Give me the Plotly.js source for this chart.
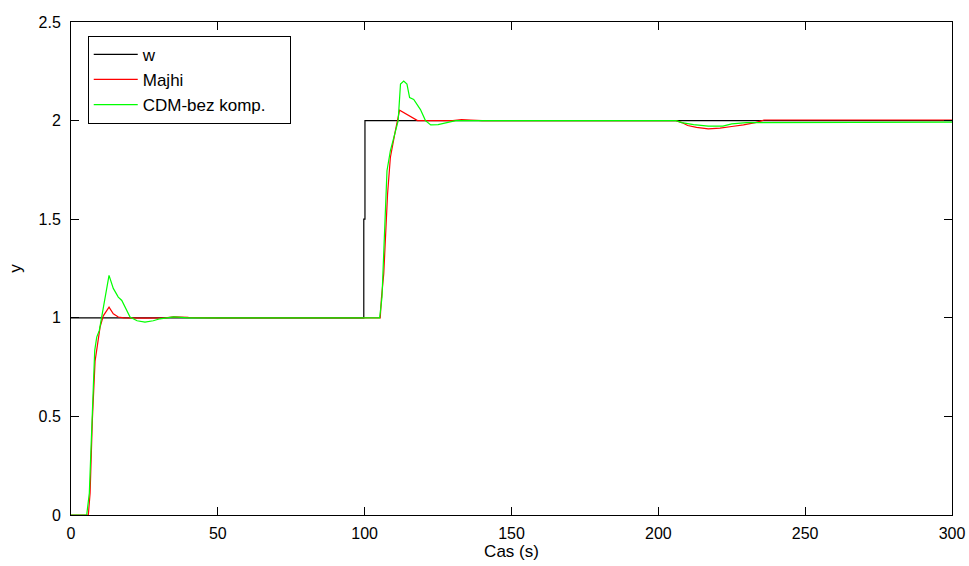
<!DOCTYPE html>
<html>
<head>
<meta charset="utf-8">
<script src="https://cdn.plot.ly/plotly-3.0.1.min.js"></script>
<style>html,body{margin:0;padding:0;background:#fff;}#chart{width:969px;height:566px;}</style>
</head>
<body>
<div id="chart"></div>
<script>
// Reference signal w
const wT = [0, 99.7, 99.7, 100.1, 100.1, 300];
const wY = [1, 1, 1.5, 1.5, 2, 2];

// Majhi controller response
const majhiT = [0, 5.9, 6.5, 7.27, 8.2, 9.3, 9.9, 11, 12.95, 14.4, 16.1, 18, 25, 32, 35, 40, 50,
  105.3, 105.7, 106.5, 107.3, 107.8, 108.75, 109.7, 110.45, 111.9, 113.3, 116.7, 118, 130, 133, 136, 140,
  206, 208, 210, 213, 217, 221, 225, 229, 233, 236, 300];
const majhiY = [0, 0, 0.11, 0.48, 0.78, 0.886, 0.953, 1.01, 1.054, 1.02, 1.004, 1.0, 0.998, 1.0, 1.005, 1.002, 1.0,
  1.0, 1.097, 1.223, 1.459, 1.628, 1.813, 1.898, 1.948, 2.053, 2.04, 2.008, 2.0, 2.0, 2.005, 2.003, 2.0,
  2.0, 1.99, 1.975, 1.966, 1.958, 1.962, 1.97, 1.978, 1.99, 2.003, 2.003];

// CDM without compensation response
const cdmT = [0, 5.35, 6.24, 7.06, 7.6, 8.08, 8.76, 9.65, 10.47, 11.6, 12.95, 14.4, 16.1, 17.3, 20.1, 22.5, 25.2, 28, 30.3, 32.6, 35, 40,
  105.1, 105.9, 106.5, 107.0, 107.6, 108.75, 109.9, 110.8, 111.4, 112.2, 113.3, 114.4, 115.3, 116.7, 119, 120.7, 122.5, 125, 128, 131,
  206, 208, 212, 217, 222, 225, 230, 300];
const cdmY = [0, 0, 0.111, 0.506, 0.649, 0.835, 0.902, 0.936, 1.004, 1.088, 1.215, 1.149, 1.105, 1.088, 1.004, 0.985, 0.978, 0.985, 0.995, 1.0, 1.005, 1.0,
  1.0, 1.105, 1.324, 1.577, 1.746, 1.847, 1.914, 1.957, 1.999, 2.185, 2.2, 2.185, 2.117, 2.107, 2.056, 2.0, 1.978, 1.98, 1.99, 2.0,
  2.0, 1.99, 1.98, 1.972, 1.972, 1.983, 1.99, 1.992];

const seriesNames = ['w', 'Majhi', 'CDM-bez komp.'];
const xTickVals = [0, 50, 100, 150, 200, 250, 300];
const yTickVals = [0, 0.5, 1, 1.5, 2, 2.5];

const FONT = 'Liberation Sans, Arial, sans-serif';
// trailing non-breaking spaces widen the legend box like the reference
const LEGEND_PAD = '\u00a0\u00a0\u00a0\u00a0';

const traces = [
  {x: wT, y: wY, name: seriesNames[0], mode: 'lines', line: {color: '#000000', width: 1.2}},
  {x: majhiT, y: majhiY, name: seriesNames[1], mode: 'lines', line: {color: '#ff0000', width: 1.2}},
  {x: cdmT, y: cdmY, name: seriesNames[2] + LEGEND_PAD, mode: 'lines', line: {color: '#00ff00', width: 1.2}}
];

const axisCommon = {
  showgrid: false, zeroline: false, showline: true, linecolor: '#000000', linewidth: 1,
  mirror: 'ticks', ticks: 'inside', ticklen: 8, tickwidth: 1, tickcolor: '#000000',
  tickfont: {family: FONT, size: 16, color: '#000000'}
};

const layout = {
  width: 969, height: 566,
  paper_bgcolor: '#ffffff', plot_bgcolor: '#ffffff',
  margin: {l: 71, r: 17, t: 22, b: 51},
  showlegend: true,
  legend: {
    x: 0.019, y: 0.972, xanchor: 'left', yanchor: 'top',
    bgcolor: '#ffffff', bordercolor: '#000000', borderwidth: 1,
    font: {family: FONT, size: 17, color: '#000000'},
    itemwidth: 44,
    tracegroupgap: 0
  },
  xaxis: Object.assign({}, axisCommon, {
    range: [0, 300], tickvals: xTickVals, ticklabelstandoff: 4,
    title: {text: 'Cas (s)', font: {family: FONT, size: 17, color: '#000000'}, standoff: 2}
  }),
  yaxis: Object.assign({}, axisCommon, {
    range: [0, 2.5], tickvals: yTickVals, ticklabelstandoff: 6,
    title: {text: 'y', font: {family: FONT, size: 17, color: '#000000'}, standoff: 12}
  })
};

Plotly.newPlot('chart', traces, layout, {displayModeBar: false, staticPlot: true});
</script>
</body>
</html>
